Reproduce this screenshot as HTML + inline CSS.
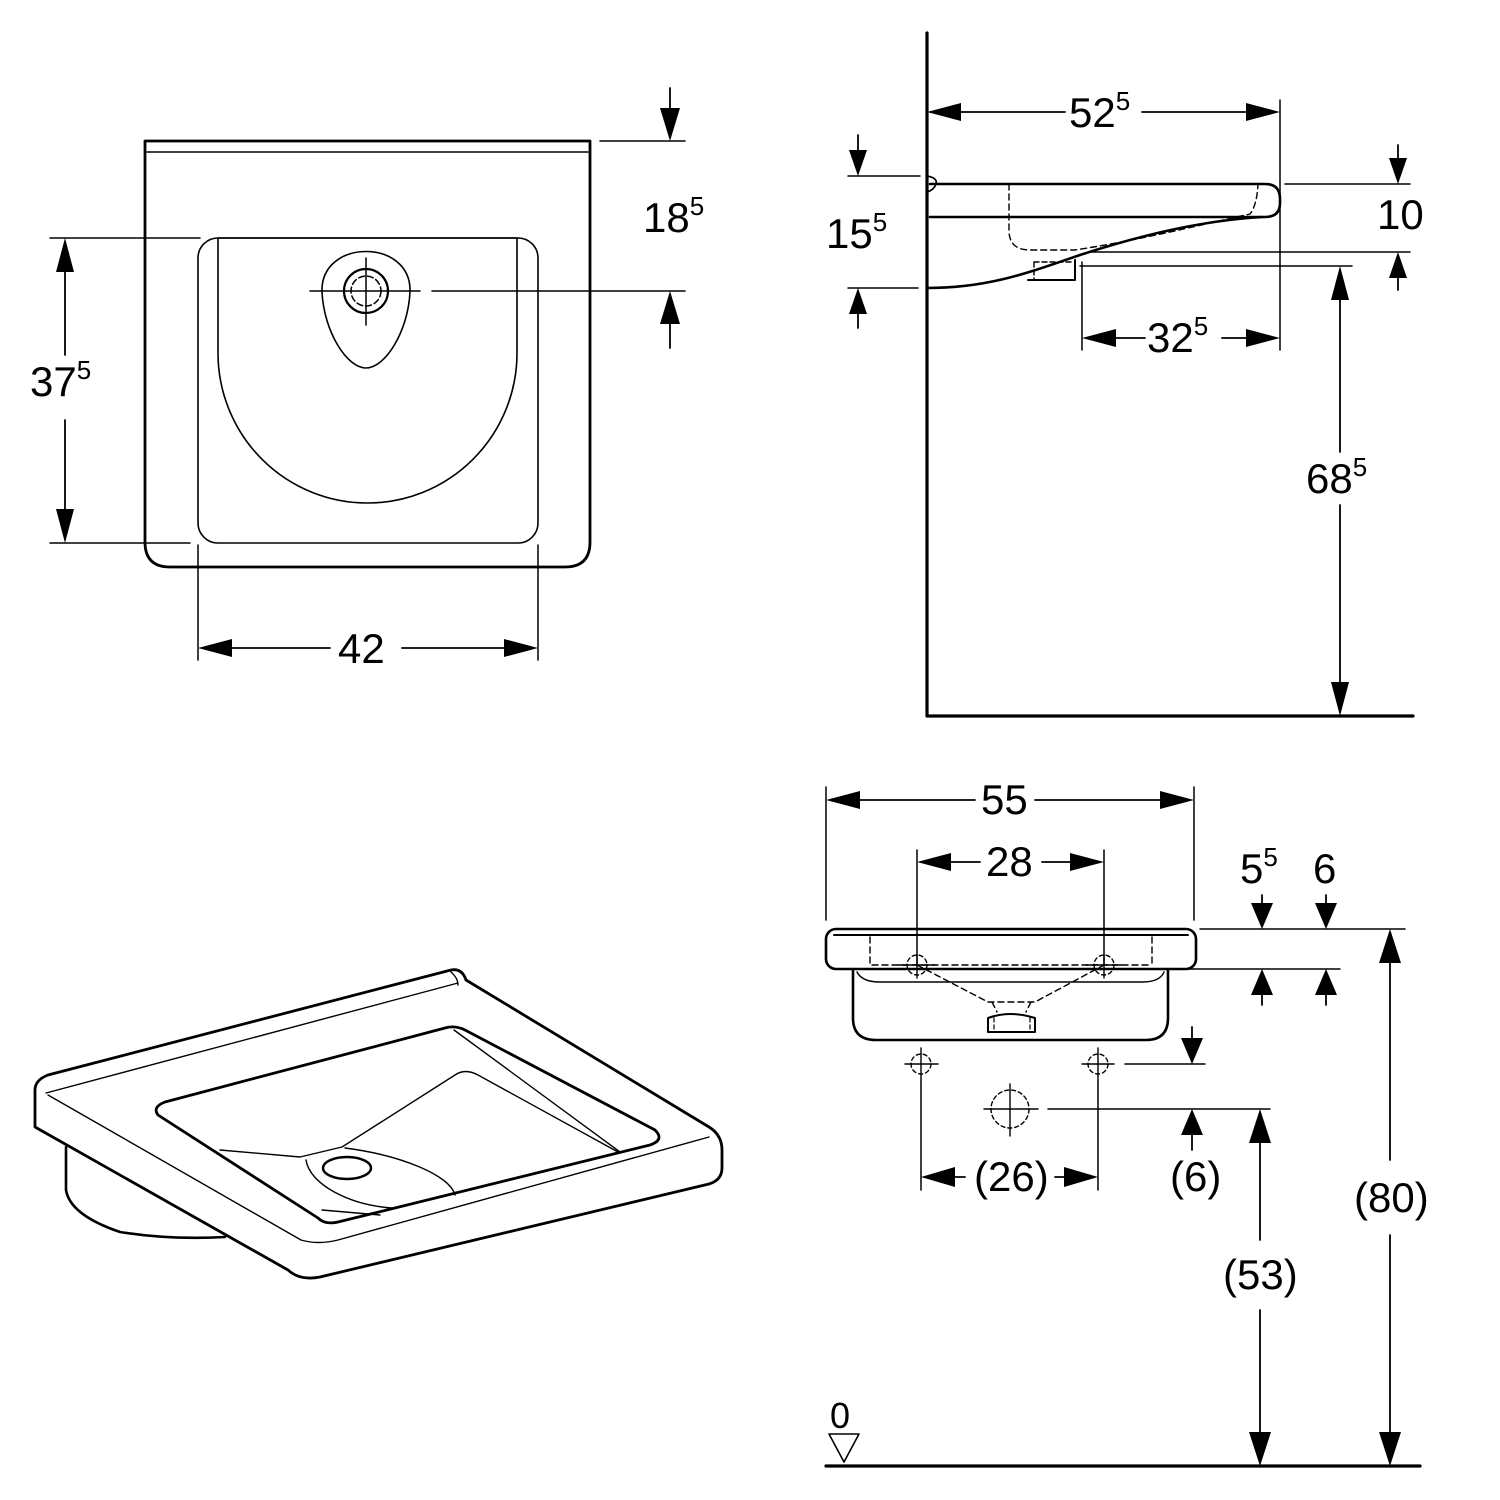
<!DOCTYPE html>
<html><head><meta charset="utf-8"><style>
html,body{margin:0;padding:0;background:#fff;width:1500px;height:1500px;overflow:hidden}
svg text{font-family:"Liberation Sans",Arial,sans-serif;fill:#000}
</style></head><body>
<svg width="1500" height="1500" viewBox="0 0 1500 1500" xmlns="http://www.w3.org/2000/svg">
<g fill="none" stroke="#000" stroke-width="2" stroke-linejoin="round" stroke-linecap="round">
<!-- ===== TOP LEFT PLAN ===== -->
<path d="M145,141 H590 V542 Q590,567 565,567 H170 Q145,567 145,542 Z" stroke-width="2.8"/>
<path d="M147,152 H588" stroke-width="1.5"/>
<rect x="198" y="238" width="340" height="305" rx="20" stroke-width="1.6"/>
<path d="M218,238 H517 V353 A149.5,150 0 0 1 218,353 Z" stroke-width="1.6"/>
<path d="M322,292 C320,238 412,238 410,292 C408,332 385,368 366,368 C347,368 324,332 322,292 Z" stroke-width="1.6"/>
<circle cx="366" cy="291" r="22" stroke-width="2.2"/>
<circle cx="366" cy="291" r="15" stroke-width="1.5" stroke-dasharray="6,3"/>
<path d="M310,291 H420 M432,291 H685 M366,258 V325" stroke-width="1.5"/>
<!-- 37.5 -->
<path d="M50,238 H200 M50,543 H190" stroke-width="1.5"/>
<path d="M65,270 V355 M65,420 V512" stroke-width="1.8"/>
<!-- 18.5 -->
<path d="M600,141 H685" stroke-width="1.5"/>
<path d="M670,88 V112 M670,320 V348" stroke-width="1.8"/>
<!-- 42 -->
<path d="M198,545 V660 M538,545 V660" stroke-width="1.5"/>
<path d="M230,648 H330 M402,648 H508" stroke-width="1.8"/>

<!-- ===== TOP RIGHT SIDE ===== -->
<path d="M927,33 V716 H1413" stroke-width="3.2"/>
<path d="M1280,100 V350" stroke-width="1.5"/>
<path d="M960,112 H1065 M1142,112 H1248" stroke-width="1.8"/>
<path d="M927,176 Q938,178 936,184 Q934,190 927,192" stroke-width="1.8"/>
<path d="M930,184 H1265 Q1280,184 1280,199 V203 Q1280,217 1265,217 H930" stroke-width="2.6"/>
<path d="M927,288 C990,288 1030,272 1080,255 C1150,232 1210,220 1262,217" stroke-width="2.6"/>
<path d="M1009,184 V232 Q1010,250 1030,250 H1075 C1140,240 1200,225 1250,214 Q1257,205 1258,184" stroke-width="1.4" stroke-dasharray="6,4"/>
<path d="M1028,280 H1075 V260" stroke-width="2"/>
<path d="M1034,262 V280 M1034,262 H1072" stroke-width="1.4" stroke-dasharray="5,3"/>
<!-- 15.5 -->
<path d="M848,176 H920 M848,288 H918" stroke-width="1.5"/>
<path d="M858,135 V150 M858,313 V328" stroke-width="1.8"/>
<!-- 10 -->
<path d="M1285,184 H1410 M1088,252 H1410" stroke-width="1.5"/>
<path d="M1398,145 V160 M1398,276 V290" stroke-width="1.8"/>
<!-- 32.5 -->
<path d="M1082,262 V350" stroke-width="1.5"/>
<path d="M1115,338 H1145 M1222,338 H1248" stroke-width="1.8"/>
<!-- 68.5 -->
<path d="M1080,266 H1352" stroke-width="1.5"/>
<path d="M1340,300 V452 M1340,505 V690" stroke-width="1.8"/>

<!-- ===== BOTTOM LEFT PERSPECTIVE ===== -->
<path d="M48,1075 L451,970 Q462,968 466,980 L709,1127 Q722,1135 722,1150 V1168 Q722,1180 709,1184 L320,1277 Q300,1281 288,1270 L35,1127 V1090 Q35,1080 48,1075 Z" stroke-width="2.8"/>
<path d="M48,1095 L301,1240 Q318,1245 338,1240 L709,1137" stroke-width="1.4"/>
<path d="M46,1093 L458,983 M451,972 Q458,978 458,985" stroke-width="1.4"/>
<path d="M66,1147 V1190 Q70,1215 120,1232 Q170,1240 225,1237" stroke-width="2.6"/>
<path d="M165,1102 L445,1028 Q455,1025 465,1030 L655,1130 Q665,1140 650,1145 L338,1222 Q325,1225 318,1218 L158,1115 Q152,1107 165,1102 Z" stroke-width="2.8"/>
<path d="M454,1030 L620,1152" stroke-width="1.4"/>
<path d="M220,1150 L300,1157 L342,1147 L455,1075 Q465,1068 478,1075 L618,1152" stroke-width="1.4"/>
<path d="M345,1148 C400,1155 450,1175 455,1195 M306,1160 C310,1185 350,1205 392,1208 M322,1210 L380,1215" stroke-width="1.4"/>
<ellipse cx="347" cy="1168" rx="24" ry="11" stroke-width="2.4"/>

<!-- ===== BOTTOM RIGHT FRONT ===== -->
<path d="M826,787 V920 M1194,787 V920" stroke-width="1.5"/>
<path d="M860,800 H975 M1035,800 H1160" stroke-width="1.8"/>
<path d="M917,850 V965 M1104,850 V965" stroke-width="1.5"/>
<path d="M950,862 H980 M1042,862 H1070" stroke-width="1.8"/>
<rect x="826" y="929" width="370" height="40" rx="10" stroke-width="2.6"/>
<path d="M834,935 H1188" stroke-width="2"/>
<path d="M853,969 V1018 Q853,1040 876,1040 H1146 Q1168,1040 1168,1018 V969" stroke-width="2.6"/>
<path d="M857,972 Q862,982 880,982 H1142 Q1160,982 1164,972" stroke-width="1.4"/>
<path d="M870,937 V965 H1150 M1152,937 V965 M917,965 L988,1002 H1035 L1104,965 M992,1002 L997,1012 M1031,1002 L1026,1012" stroke-width="1.4" stroke-dasharray="6,4"/>
<path d="M988,1032 V1018 Q1010,1010 1035,1018 V1032 Z" stroke-width="2"/>
<path d="M994,1018 V1032 M1030,1018 V1032" stroke-width="1.2" stroke-dasharray="4,3"/>
<g stroke-width="1.4">
<circle cx="917" cy="965" r="10" stroke-dasharray="4,3"/><path d="M898,965 H935 M917,955 V978"/>
<circle cx="1104" cy="965" r="10" stroke-dasharray="4,3"/><path d="M1086,965 H1122 M1104,955 V978"/>
<circle cx="921" cy="1064" r="10" stroke-dasharray="4,3"/><path d="M905,1064 H938 M921,1048 V1080"/>
<circle cx="1098" cy="1064" r="10" stroke-dasharray="4,3"/><path d="M1082,1064 H1114 M1098,1048 V1080"/>
<circle cx="1010" cy="1109" r="19" stroke-dasharray="4,3"/><path d="M984,1109 H1038 M1010,1084 V1136"/>
</g>
<path d="M1200,929 H1405 M1170,969 H1340 M1125,1064 H1205 M1048,1109 H1270" stroke-width="1.5"/>
<path d="M1262,895 V905 M1262,995 V1005 M1326,895 V905 M1326,995 V1005 M1192,1027 V1040 M1192,1135 V1150" stroke-width="1.8"/>
<path d="M921,1080 V1190 M1098,1080 V1190" stroke-width="1.5"/>
<path d="M955,1177 H965 M1055,1177 H1065" stroke-width="1.8"/>
<path d="M1260,1140 V1240 M1260,1310 V1440 M1390,960 V1160 M1390,1235 V1440" stroke-width="1.8"/>
<path d="M826,1466 H1420" stroke-width="3.2"/>
<path d="M829,1434 H859 L844,1462 Z" stroke-width="1.6"/>
</g>
<!-- arrowheads -->
<g fill="#000" stroke="none">
<polygon points="56,272 74,272 65,238"/><polygon points="56,509 74,509 65,543"/>
<polygon points="660,108 680,108 670,141"/><polygon points="660,324 680,324 670,291"/>
<polygon points="232,639 232,657 198,648"/><polygon points="504,639 504,657 538,648"/>
<polygon points="961,103 961,121 927,112"/><polygon points="1246,103 1246,121 1280,112"/>
<polygon points="849,150 867,150 858,176"/><polygon points="849,314 867,314 858,288"/>
<polygon points="1389,158 1407,158 1398,184"/><polygon points="1389,278 1407,278 1398,252"/>
<polygon points="1116,329 1116,347 1082,338"/><polygon points="1246,329 1246,347 1280,338"/>
<polygon points="1331,300 1349,300 1340,266"/><polygon points="1331,682 1349,682 1340,716"/>
<polygon points="860,791 860,809 826,800"/><polygon points="1160,791 1160,809 1194,800"/>
<polygon points="951,853 951,871 917,862"/><polygon points="1070,853 1070,871 1104,862"/>
<polygon points="1251,903 1273,903 1262,929"/><polygon points="1251,995 1273,995 1262,969"/>
<polygon points="1315,903 1337,903 1326,929"/><polygon points="1315,995 1337,995 1326,969"/>
<polygon points="1181,1038 1203,1038 1192,1064"/><polygon points="1181,1135 1203,1135 1192,1109"/>
<polygon points="955,1167 955,1187 921,1177"/><polygon points="1064,1167 1064,1187 1098,1177"/>
<polygon points="1249,1143 1271,1143 1260,1109"/><polygon points="1249,1432 1271,1432 1260,1466"/>
<polygon points="1379,963 1401,963 1390,929"/><polygon points="1379,1432 1401,1432 1390,1466"/>
</g>
<!-- texts -->
<g font-size="42">
<text x="30" y="396">37<tspan font-size="26" dy="-17">5</tspan></text>
<text x="643" y="232">18<tspan font-size="26" dy="-17">5</tspan></text>
<text x="338" y="663">42</text>
<text x="1069" y="127">52<tspan font-size="26" dy="-17">5</tspan></text>
<text x="826" y="248">15<tspan font-size="26" dy="-17">5</tspan></text>
<text x="1377" y="229">10</text>
<text x="1147" y="352">32<tspan font-size="26" dy="-17">5</tspan></text>
<text x="1306" y="493">68<tspan font-size="26" dy="-17">5</tspan></text>
<text x="981" y="814">55</text>
<text x="986" y="876">28</text>
<text x="1240" y="883">5<tspan font-size="26" dy="-17">5</tspan></text>
<text x="1313" y="883">6</text>
<text x="974" y="1191">(26)</text>
<text x="1170" y="1191">(6)</text>
<text x="1223" y="1289">(53)</text>
<text x="1354" y="1212">(80)</text>
<text x="830" y="1428" font-size="36">0</text>
</g>
</svg>
</body></html>
